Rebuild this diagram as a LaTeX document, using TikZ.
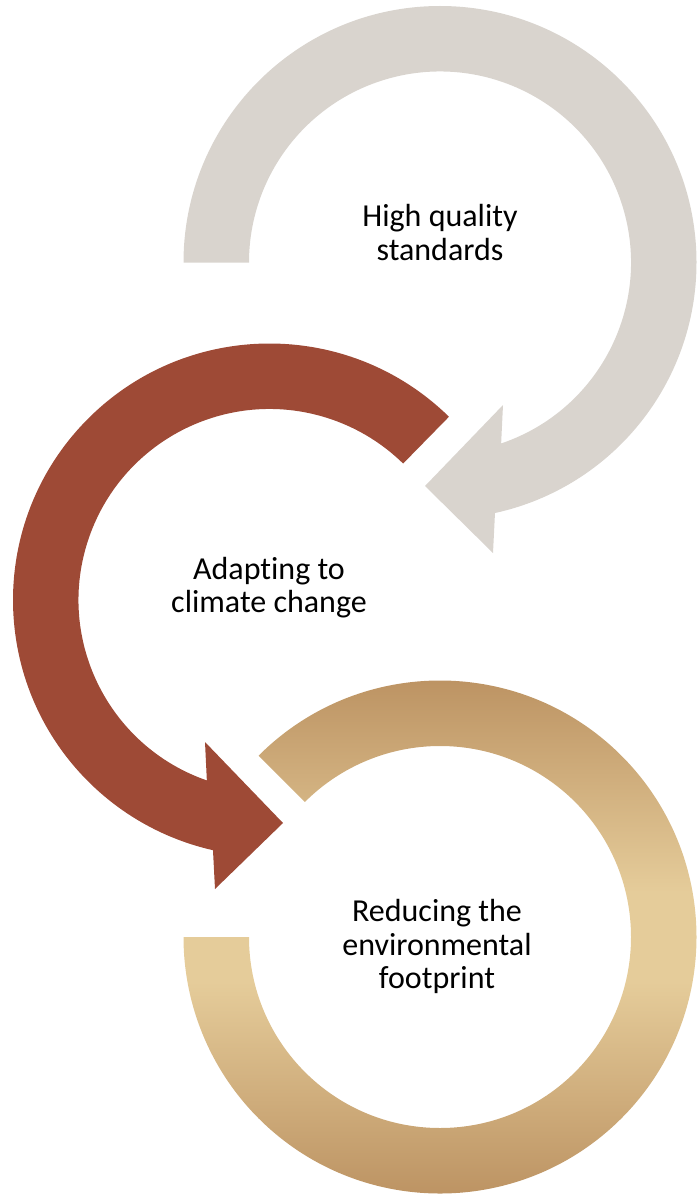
\documentclass[tikz,border=0pt]{standalone}
\usepackage{fontspec}
\setmainfont[Ligatures=NoCommon]{Carlito}
\definecolor{grayc}{RGB}{217,212,206}
\definecolor{redc}{RGB}{158,74,54}
\definecolor{golddark}{RGB}{184,141,93}
\definecolor{goldlight}{RGB}{229,204,154}
\pgfdeclareverticalshading{goldshade}{100bp}{color(0bp)=(golddark); color(25bp)=(golddark); color(46bp)=(goldlight); color(54bp)=(goldlight); color(75bp)=(golddark); color(100bp)=(golddark)}
\begin{document}
\begin{tikzpicture}[x=1pt,y=-1pt,
  lbl/.style={font=\fontsize{32}{34}\selectfont, inner sep=0pt, anchor=base, text=black}]
\useasboundingbox (0,0) rectangle (697,1196);
\coordinate (C1) at (440,262.5);
\coordinate (C2) at (269.5,600);
\coordinate (C3) at (440,937);
% gray arrow
\fill[grayc] ([shift={(C1)}]180:256.5) arc[start angle=180, end angle=437.62, radius=256.5]
  -- (493,553) -- (425,486) -- (503,405)
  -- ([shift={(C1)}]431.33:191) arc[start angle=431.33, end angle=180, radius=191] -- cycle;
% red arrow
\fill[redc] ([shift={(C2)}]314.4:256.5) arc[start angle=314.4, end angle=102.73, radius=256.5]
  -- (215,889) -- (283,823) -- (205,742)
  -- ([shift={(C2)}]109.15:191) arc[start angle=109.15, end angle=314.4, radius=191] -- cycle;
% gold ring
\shade[shading=goldshade] ([shift={(C3)}]225:256.5) arc[start angle=225, end angle=540, radius=256.5]
  -- ([shift={(C3)}]540:191) arc[start angle=540, end angle=225, radius=191] -- cycle;
% labels
\node[lbl] (t1a) at (440,226) {High quality};
\node[lbl] (t1b) at (440,260) {standards};
\node[lbl] (t2a) at (269,579) {Adapting to};
\node[lbl] (t2b) at (269,612) {climate change};
\node[lbl] (t3a) at (437,921) {Reducing the};
\node[lbl] (t3b) at (437,955) {environmental};
\node[lbl] (t3c) at (437,988) {footprint};
\end{tikzpicture}
\end{document}
